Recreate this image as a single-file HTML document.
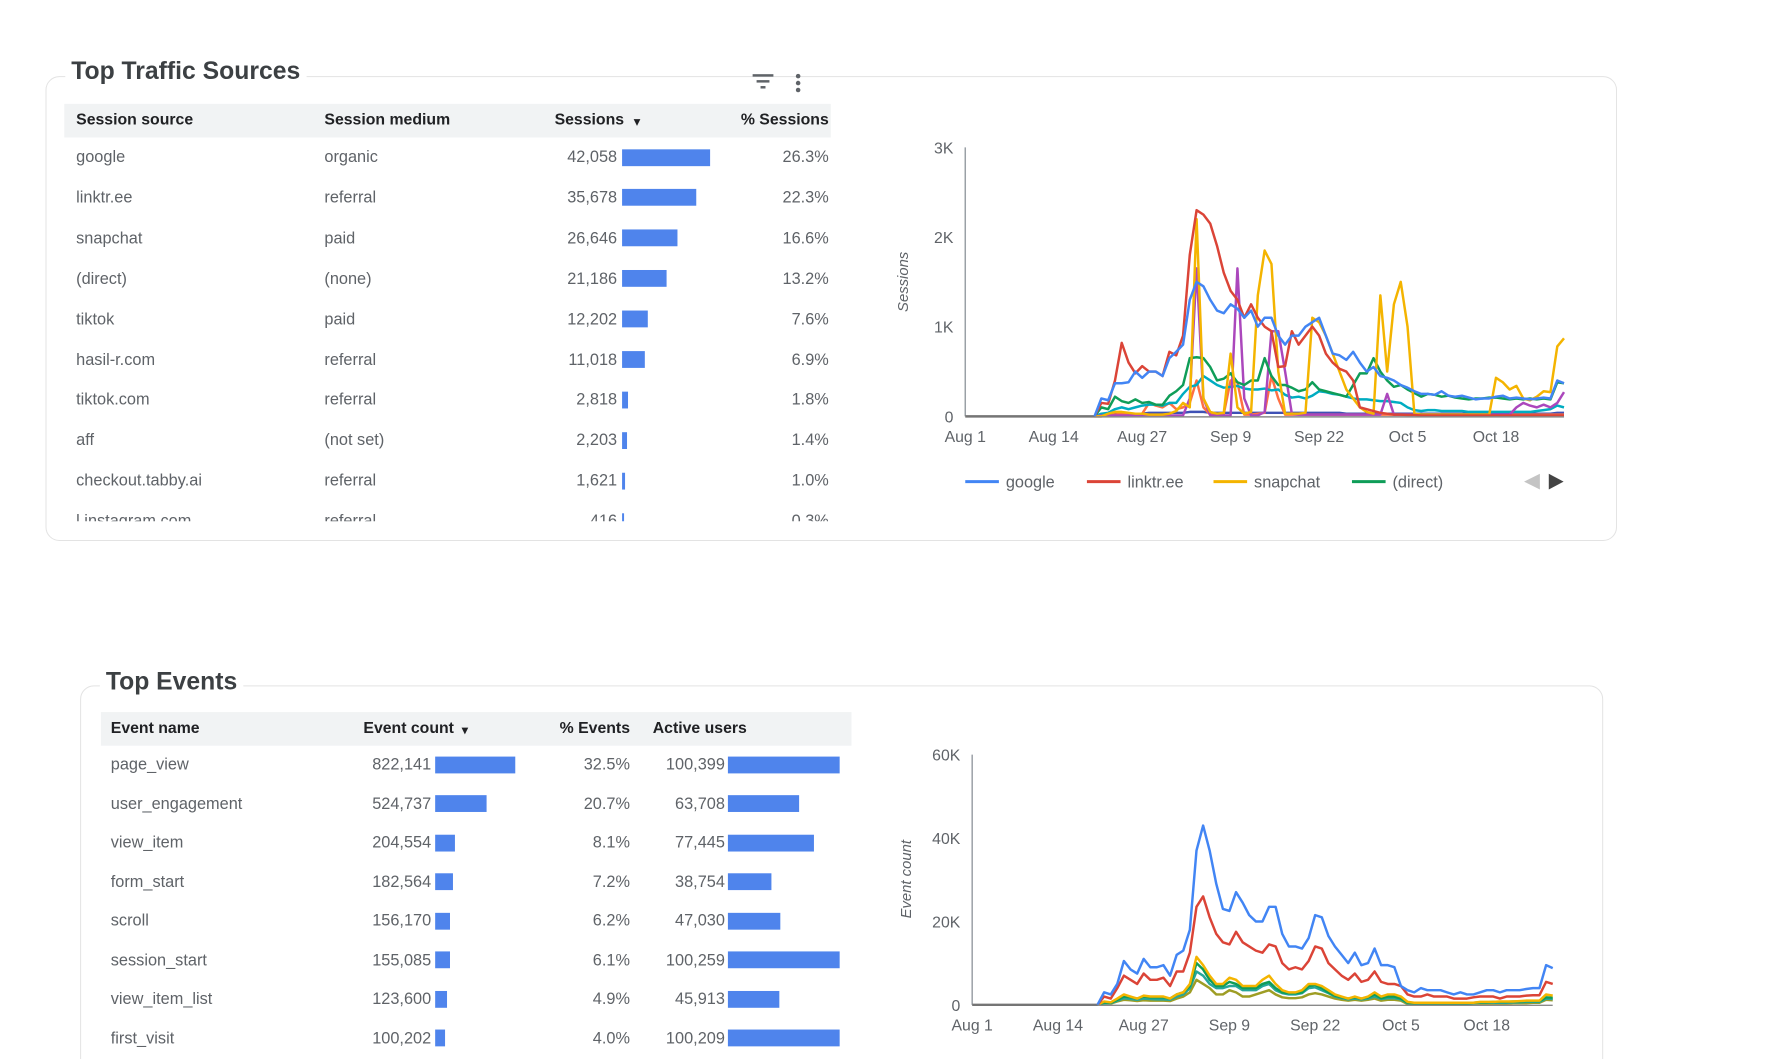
<!DOCTYPE html>
<html><head><meta charset="utf-8">
<style>
html,body{margin:0;width:1778px;height:1059px;overflow:hidden}
body{background:#fff;position:relative;font-family:"Liberation Sans",sans-serif;color:#5f6368}
#wrap{position:absolute;left:0;top:0;width:1778px;height:1071px;overflow:hidden;transform:scale(0.989);transform-origin:0 0}
.card{position:absolute;border:1.5px solid #e3e3e3;border-radius:14px;box-sizing:border-box}
.title{position:absolute;background:#fff;padding:0 6px;font-size:25px;font-weight:bold;color:#3c4043;line-height:30px}
.hdr{position:absolute;background:#f1f3f4;}
.t{position:absolute;font-size:16.5px;line-height:20px;white-space:nowrap}
.h{color:#202124;font-weight:bold;font-size:16px}
.r{text-align:right}
.bar{position:absolute;background:#4f84ec;height:17px}
svg{position:absolute;left:0;top:0}
</style></head><body>
<div id="wrap">
<div class="card" style="left:46px;top:77px;width:1589px;height:470px"></div>
<div class="title" style="left:66px;top:57px">Top Traffic Sources</div>
<svg style="left:760px;top:74px" width="24" height="18"><rect x="1" y="1" width="21" height="2.5" fill="#5f6368"/><rect x="5" y="7" width="13" height="2.5" fill="#5f6368"/><rect x="9" y="13" width="5" height="2.5" fill="#5f6368"/></svg>
<svg style="left:802px;top:74px" width="10" height="20"><circle cx="5" cy="3" r="2.3" fill="#5f6368"/><circle cx="5" cy="10" r="2.3" fill="#5f6368"/><circle cx="5" cy="17" r="2.3" fill="#5f6368"/></svg>
<div class="card" style="left:81px;top:693px;width:1540px;height:420px"></div>
<div class="title" style="left:101px;top:674px">Top Events</div>
<div id="tables"></div>
<svg id="charts" width="1778" height="1071"></svg>
</div>
<script>
// ---------- Table data ----------
const srcNames=["google","linktr.ee","snapchat","(direct)","tiktok","hasil-r.com","tiktok.com","aff","checkout.tabby.ai","l.instagram.com"];
const srcMedium=["organic","referral","paid","(none)","paid","referral","referral","(not set)","referral","referral"];
const srcSessions=[42058,35678,26646,21186,12202,11018,2818,2203,1621,416];
const srcPct=["26.3%","22.3%","16.6%","13.2%","7.6%","6.9%","1.8%","1.4%","1.0%","0.3%"];
const evNames=["page_view","user_engagement","view_item","form_start","scroll","session_start","view_item_list","first_visit"];
const evCount=[822141,524737,204554,182564,156170,155085,123600,100202];
const evPct=["32.5%","20.7%","8.1%","7.2%","6.2%","6.1%","4.9%","4.0%"];
const evUsers=[100399,63708,77445,38754,47030,100259,45913,100209];
// ---------- Chart data (daily, Aug 20 .. Oct 28) ----------
const sGoogle=[0,200,180,370,370,380,500,430,500,500,450,650,720,800,1300,1500,1450,1300,1180,1150,1250,1200,1100,1180,1000,1100,1100,900,800,900,900,1000,1050,1100,900,700,680,630,720,600,500,550,450,430,400,350,320,280,250,250,240,280,230,220,230,210,190,200,200,220,230,200,210,200,190,200,210,200,400,370];
const sLinktree=[0,150,140,400,820,600,480,560,500,500,450,720,680,900,1800,2300,2250,2150,1900,1600,1400,1300,1100,1250,1100,1000,950,550,560,950,800,900,1000,900,700,600,530,500,400,100,80,60,40,30,20,20,15,15,10,10,10,10,10,10,10,10,10,10,10,10,10,10,10,10,10,10,10,10,10,10];
const sSnap=[0,0,30,50,50,40,30,30,20,20,20,30,60,150,100,2200,200,50,30,40,700,100,30,50,1350,1850,1700,500,30,30,30,40,1100,1050,900,700,500,300,200,100,50,30,1350,500,1250,1500,1000,30,20,20,20,20,20,20,20,20,20,20,20,430,380,300,340,200,180,220,280,270,780,870];
const sDirect=[0,100,80,220,170,150,190,150,160,130,130,230,280,350,650,660,650,550,400,420,480,380,350,400,400,650,450,350,350,320,280,300,380,300,280,260,240,220,350,480,480,650,500,400,330,350,300,260,220,250,240,220,230,210,200,190,200,200,210,210,200,190,200,190,200,190,200,190,380,370];
const sPurple=[0,10,10,10,10,10,10,10,10,10,10,10,10,10,200,1650,200,10,10,10,10,1650,200,10,10,50,950,950,500,30,20,20,20,20,20,20,20,20,20,20,20,20,20,250,20,20,20,20,20,20,20,20,20,20,20,20,20,20,20,20,20,20,100,150,120,100,130,100,150,270];
const sCyan=[0,30,40,80,100,80,100,120,130,130,120,150,150,250,330,350,450,400,350,320,330,340,310,300,300,310,290,300,240,210,220,200,230,280,270,250,240,220,200,190,190,180,170,170,160,150,100,70,60,70,70,60,60,60,60,50,50,50,50,50,50,50,50,50,50,60,70,80,120,100];
const sOrange=[0,0,10,20,30,20,20,30,150,120,100,150,80,100,150,400,100,20,20,30,400,380,20,20,30,40,450,200,20,20,20,20,20,20,20,20,20,20,20,20,20,20,20,20,20,20,20,20,20,20,20,20,20,20,20,20,20,20,20,20,20,20,20,20,20,20,20,20,20,20];
const sNavy=[0,20,20,30,30,30,30,30,40,40,40,40,40,40,50,50,50,40,40,40,40,40,40,40,40,40,40,40,40,40,40,40,40,40,40,40,40,30,30,30,30,30,30,30,30,30,30,30,30,30,30,30,30,30,30,30,30,30,30,30,30,30,30,30,30,30,30,30,40,40];
const ePage=[0,3000,2500,5000,10500,8500,7500,11000,9000,9000,9500,7000,12000,13000,18000,37000,43000,37000,29000,23000,22500,27000,24500,21500,20000,20000,23500,23500,17000,14000,14000,13500,16000,21500,21000,16500,14000,12000,10000,12500,9500,10000,13500,9500,9500,9000,4500,3500,3000,4000,3500,3500,3500,3000,2500,3000,2500,2500,3000,3500,3500,3000,3500,3500,3500,3800,4000,4000,9500,8800];
const eEngage=[0,2000,1500,4000,7000,6000,5000,7500,6000,6000,6500,4500,8000,8000,12500,23500,26000,21000,17000,15000,14500,17500,15000,14000,13000,12500,14500,14000,10000,8500,9000,8500,10500,14000,13500,10000,8500,7000,6000,7500,5500,6000,8000,5500,5000,5000,4500,2500,2000,2000,2500,2000,2000,2000,1500,1500,1500,1800,2000,2000,2000,1500,2000,2000,2000,2200,2300,2300,5500,5000];
const eViewItem=[0,800,600,1500,2500,2000,1500,2200,2000,2000,2000,1500,2500,3000,5000,11500,9500,7000,5000,5000,6500,6000,4500,4500,4500,6000,7000,5000,3500,3000,3000,3500,5000,5000,4500,3500,2500,2000,1500,2000,1500,2000,3000,2000,2500,2500,2000,700,500,500,500,500,500,500,500,500,500,500,700,700,700,800,800,800,900,1000,1000,1000,2500,2200];
const eForm=[0,600,500,1200,2000,1800,1500,2000,1800,1800,1800,1500,2500,3000,4500,10000,8500,6000,4500,4500,5500,5000,4000,4000,4000,5000,5500,4000,3000,2800,2800,3000,4500,4800,4000,3000,2200,1800,1500,1800,1500,1800,2500,1600,2000,2000,1500,500,400,400,400,400,400,400,400,400,400,500,600,600,700,700,700,800,800,900,900,900,1800,1700];
const eScroll=[0,400,400,1000,1600,1400,1200,1500,1400,1300,1300,1200,2000,2500,4000,8000,7000,5000,4000,4000,4500,4500,3500,3500,3500,4500,5000,3500,2800,2500,2500,2800,4000,4200,3500,2800,2000,1600,1300,1500,1300,1500,2000,1400,1600,1600,1300,400,300,300,300,300,300,300,300,300,300,400,500,500,500,500,500,600,600,700,700,700,1500,1400];
const eFirst=[0,300,300,800,1200,1100,900,1100,1000,1000,1000,900,1500,2000,3000,6000,5000,4000,2500,2500,3500,3000,2000,2000,2500,3000,3500,2500,1800,1600,1600,1800,2500,2800,2500,2000,1500,1200,1000,1200,1000,1200,1500,1000,1200,1200,1000,200,200,200,200,200,200,200,200,200,200,300,300,300,300,300,300,400,400,400,500,500,1200,1100];
const xTicks=["Aug 1","Aug 14","Aug 27","Sep 9","Sep 22","Oct 5","Oct 18"];
const xTickDays=[0,13,26,39,52,65,78];
const y1Ticks=[0,1000,2000,3000];
const y1Labels=["0","1K","2K","3K"];
const y2Ticks=[0,20000,40000,60000];
const y2Labels=["0","20K","40K","60K"];
const legendNames=["google","linktr.ee","snapchat","(direct)"];
const startDay=19;

const T=document.getElementById('tables');
function div(cls,x,y,txt,w,name){const d=document.createElement('div');d.className=cls;d.style.left=x+'px';d.style.top=y+'px';if(w)d.style.width=w+'px';d.textContent=txt;


T.appendChild(d);return d;}
function bar(x,y,w,name){const d=document.createElement('div');d.className='bar';d.style.left=x+'px';d.style.top=y+'px';d.style.width=Math.max(2,w)+'px';


T.appendChild(d);}
// Table 1
let hb=div('hdr',65,105,'',775,'sessions-table-header');hb.style.height='34px';
div('t h',77,112,'Session source',0,'col-session-source');
div('t h',328,112,'Session medium',0,'col-session-medium');
div('t h r',500,112,'Sessions',131,'col-sessions');
const a1=div('t h',641,113,'▾',0,'sort-arrow');a1.style.fontSize='12px';
div('t h r',700,112,'% Sessions',138,'col-pct-sessions');
const clip=document.createElement('div');clip.style.cssText='position:absolute;left:0;top:0;width:1778px;height:527px;overflow:hidden';


T.appendChild(clip);
srcNames.forEach((n,i)=>{const y=149+i*40.9;
 [['t',77,y,n,0,'source-'+i],['t',328,y,srcMedium[i],0,'medium-'+i],['t r',520,y,srcSessions[i].toLocaleString('en-US'),104,'sessions-'+i],['t r',738,y,srcPct[i],100,'pct-'+i]].forEach(a=>{const d=div(...a);clip.appendChild(d);});
 const b=document.createElement('div');b.className='bar';b.style.left='629px';b.style.top=(y+1.5)+'px';b.style.width=Math.max(2,srcSessions[i]/42058*89)+'px';
 
 
 clip.appendChild(b);});
// Table 2
hb=div('hdr',102,720,'',759,'events-table-header');hb.style.height='34px';
div('t h',112,727,'Event name',0,'col-event-name');
div('t h r',330,727,'Event count',129,'col-event-count');
const a2=div('t h',467,728,'▾',0,'sort-arrow-events');a2.style.fontSize='12px';
div('t h r',537,727,'% Events',100,'col-pct-events');
div('t h',660,727,'Active users',0,'col-active-users');
evNames.forEach((n,i)=>{const y=763+i*39.5;
 div('t',112,y,n,0,'event-'+i);
 div('t r',336,y,evCount[i].toLocaleString('en-US'),100,'event-count-'+i);
 bar(440,y+1.5,evCount[i]/822141*81,'event-count-bar-'+i);
 div('t r',537,y,evPct[i],100,'event-pct-'+i);
 div('t r',633,y,evUsers[i].toLocaleString('en-US'),100,'active-users-'+i);
 bar(736,y+1.5,evUsers[i]/100399*113,'active-users-bar-'+i);});

// Charts
const S=document.getElementById('charts');const NS='http://www.w3.org/2000/svg';
function el(tag,attrs,name,txt){const e=document.createElementNS(NS,tag);for(const k in attrs)e.setAttribute(k,attrs[k]);


if(txt!==undefined)e.textContent=txt;S.appendChild(e);return e;}
function chart(cfg){
 const X=d=>cfg.x0+d*cfg.dx, Y=v=>cfg.y0-v/cfg.ymax*cfg.h;
 cfg.yt.forEach((v,i)=>el('text',{x:cfg.x0-12,y:Y(v)+6,'text-anchor':'end','font-size':16,fill:'#5f6368','font-family':'Liberation Sans'},cfg.id+'-ytick-'+i,cfg.yl[i]));
 xTickDays.forEach((d,i)=>el('text',{x:X(d),y:cfg.y0+26,'text-anchor':'middle','font-size':16,fill:'#5f6368','font-family':'Liberation Sans'},cfg.id+'-xtick-'+i,xTicks[i]));
 el('line',{x1:cfg.x0,y1:Y(cfg.ymax),x2:cfg.x0,y2:cfg.y0,stroke:'#9aa0a6','stroke-width':1.5},cfg.id+'-y-axis');
 el('text',{x:0,y:0,transform:`translate(${cfg.tx},${cfg.ty}) rotate(-90)`,'text-anchor':'middle','font-size':15,'font-style':'italic',fill:'#5f6368','font-family':'Liberation Sans'},cfg.id+'-y-axis-title',cfg.title);
 el('line',{x1:cfg.x0,y1:cfg.y0,x2:X(startDay),y2:cfg.y0,stroke:'#757575','stroke-width':2.5},cfg.id+'-baseline-zero');
 cfg.series.slice().reverse().forEach(([arr,col,nm])=>{
  const pts=arr.map((v,i)=>X(startDay+i).toFixed(1)+','+Y(v).toFixed(1)).join(' ');
  el('polyline',{points:pts,fill:'none',stroke:col,'stroke-width':2.5,'stroke-linejoin':'round'},cfg.id+'-line-'+nm);});
 el('line',{x1:X(startDay),y1:cfg.y0+0.5,x2:X(startDay+69),y2:cfg.y0+0.5,stroke:'#8a8a8a','stroke-width':1.5},cfg.id+'-x-axis');
}
chart({id:'sessions',x0:976,dx:6.88,y0:421,h:272,ymax:3000,yt:y1Ticks,yl:y1Labels,tx:918,ty:285,title:'Sessions',
 series:[[sGoogle,'#4285f4','google'],[sLinktree,'#db4437','linktree'],[sSnap,'#f4b400','snapchat'],[sDirect,'#0f9d58','direct'],[sPurple,'#ab47bc','purple'],[sCyan,'#00acc1','cyan'],[sOrange,'#ff7043','orange'],[sNavy,'#3f51b5','navy']]});
chart({id:'events',x0:983,dx:6.67,y0:1016,h:253,ymax:60000,yt:y2Ticks,yl:y2Labels,tx:921,ty:889,title:'Event count',
 series:[[ePage,'#4285f4','page-view'],[eEngage,'#db4437','user-engagement'],[eViewItem,'#f4b400','view-item'],[eForm,'#0f9d58','form-start'],[eScroll,'#26a69a','scroll'],[eFirst,'#9e9d24','first-visit']]});
const lgX=[976,1099,1227,1367],lgC=['#4285f4','#db4437','#f4b400','#0f9d58'];
legendNames.forEach((n,i)=>{el('line',{x1:lgX[i],y1:487,x2:lgX[i]+34,y2:487,stroke:lgC[i],'stroke-width':3},'legend-swatch-'+i);
 el('text',{x:lgX[i]+41,y:493,'font-size':16.5,fill:'#5f6368','font-family':'Liberation Sans'},'legend-entry-'+i,n);});
const pl=el('polygon',{points:'1541,487 1557,479 1557,495',fill:'#c4c4c4'},'legend-prev-button');
const pr=el('polygon',{points:'1581,487 1566,479 1566,495',fill:'#444'},'legend-next-button');
</script>
</body></html>
